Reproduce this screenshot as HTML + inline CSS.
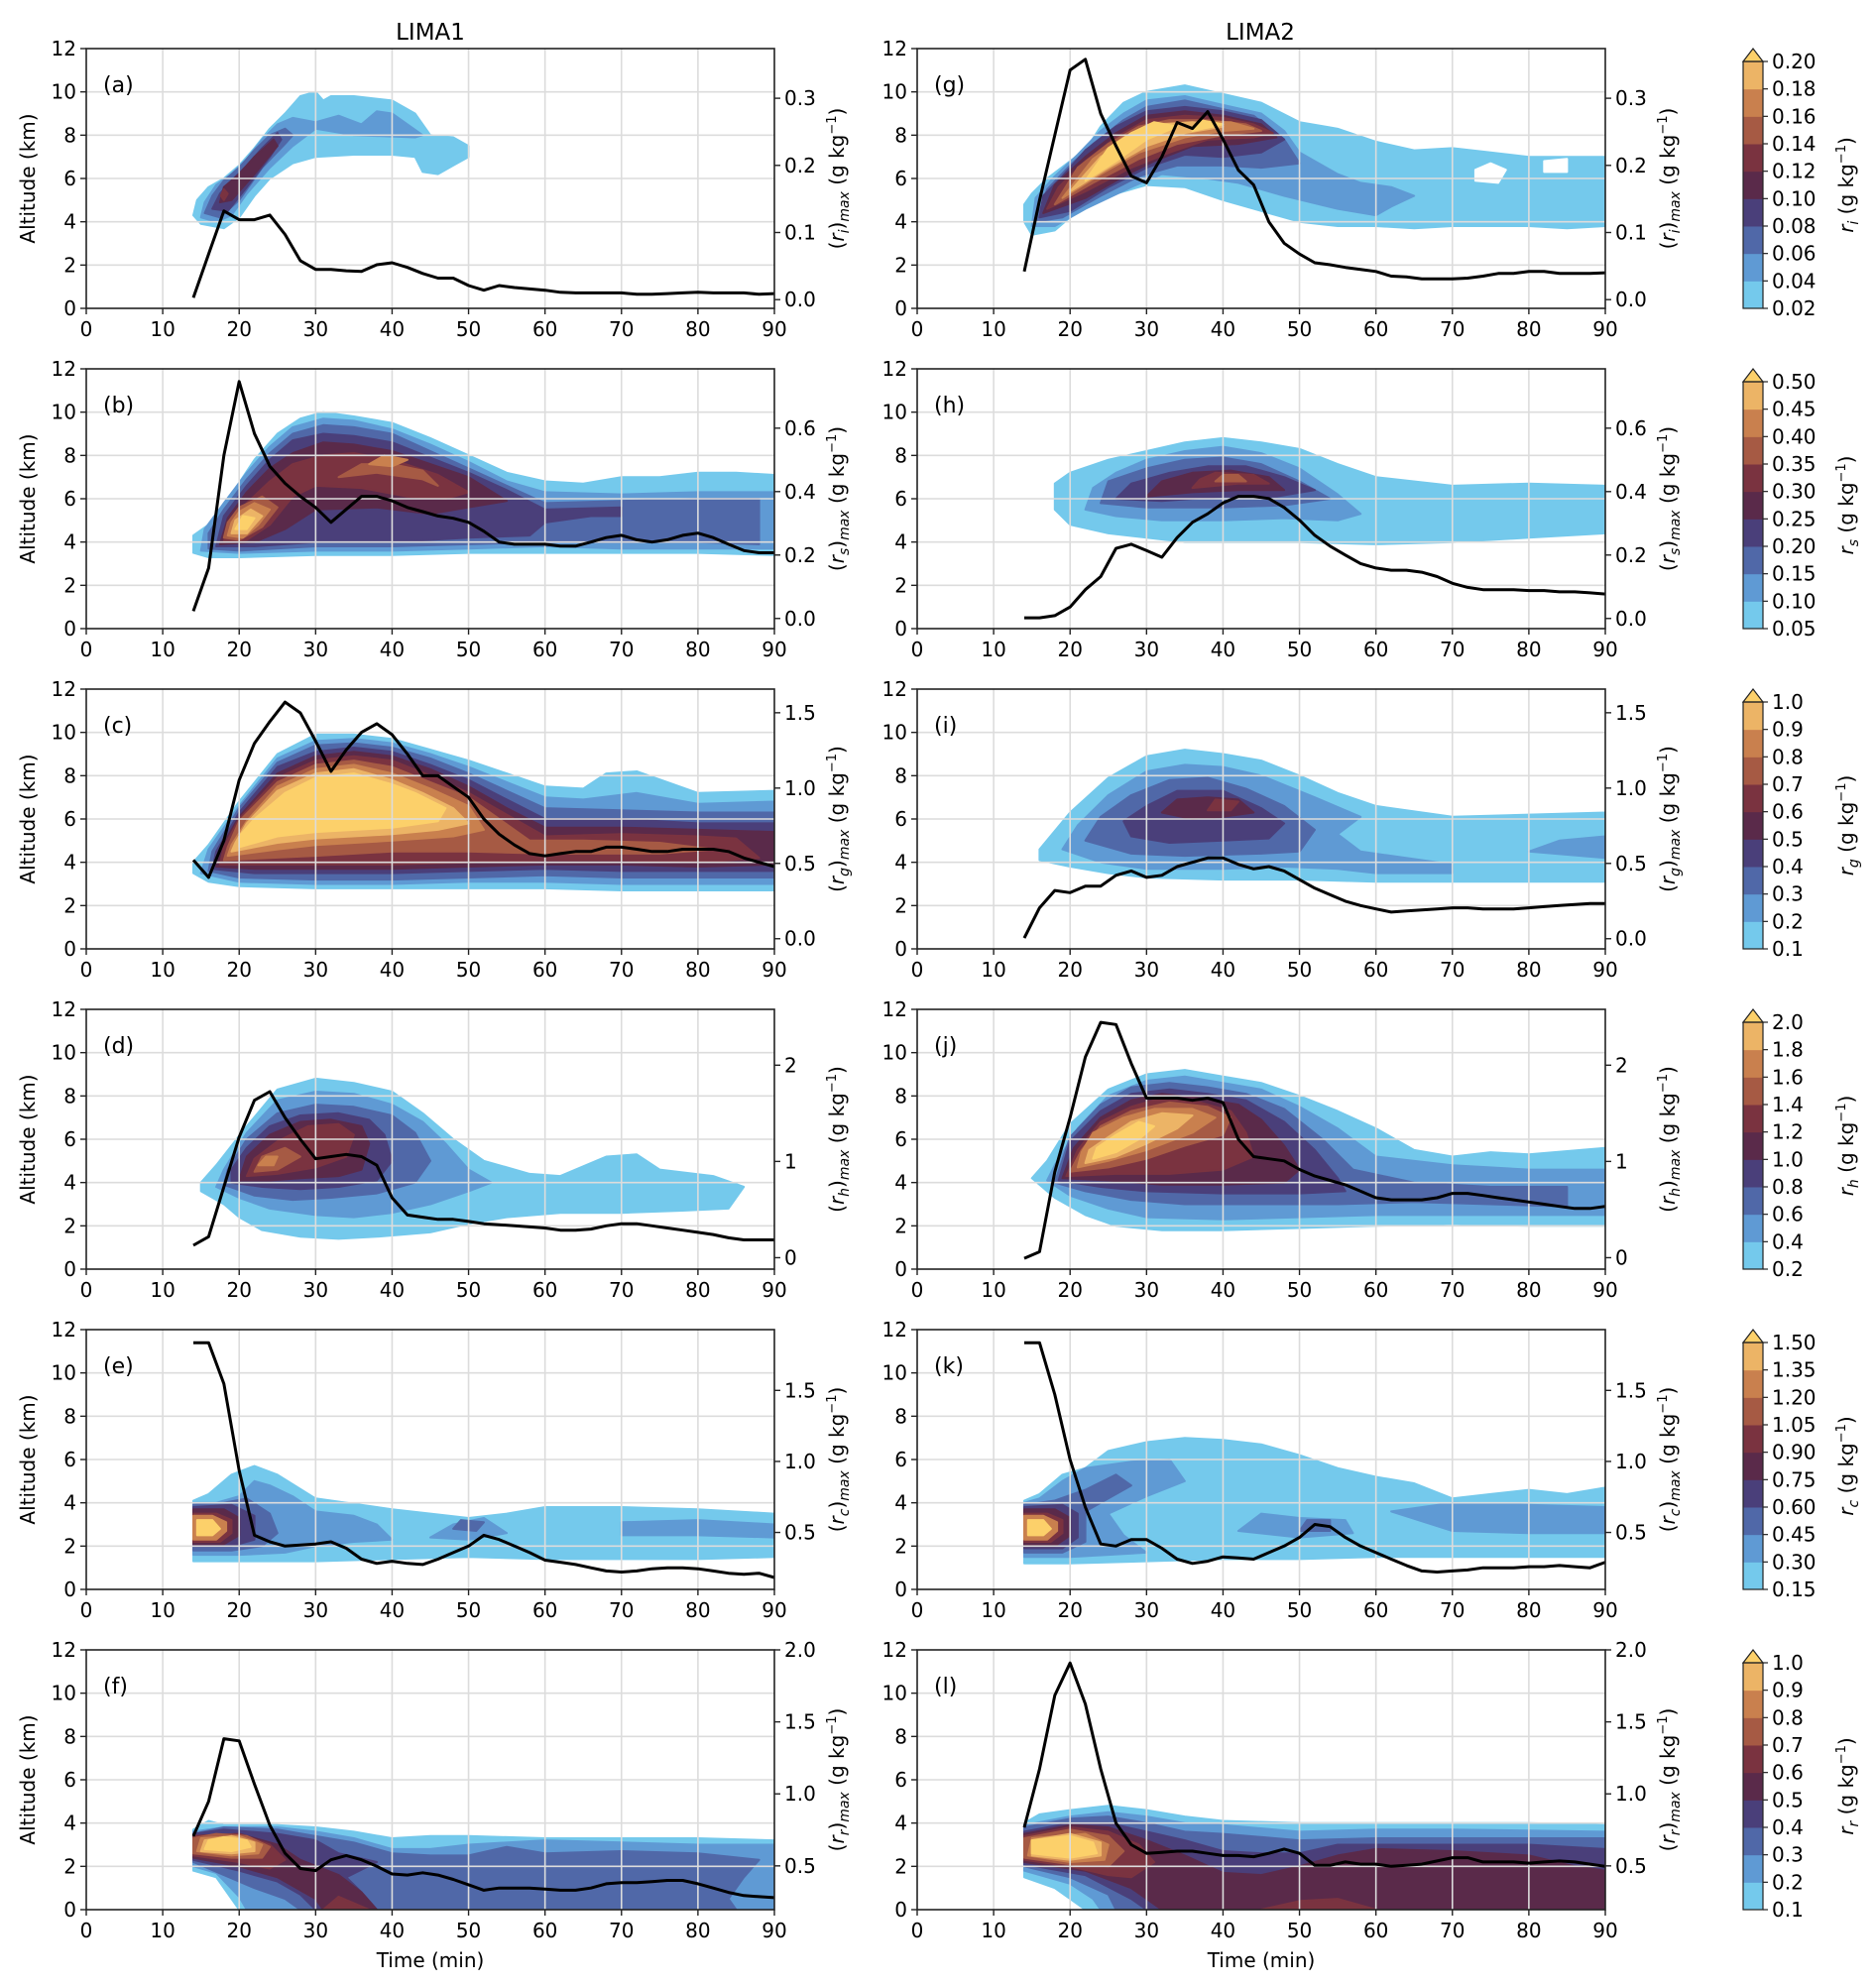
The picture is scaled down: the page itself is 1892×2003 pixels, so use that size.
<!DOCTYPE html>
<html><head><meta charset="utf-8">
<style>
html,body{margin:0;padding:0;background:#fff;}
svg{display:block;font-family:"DejaVu Sans","Liberation Sans",sans-serif;}
</style></head>
<body>
<svg id="fig" width="1892" height="2003" viewBox="0 0 1892 2003" xmlns="http://www.w3.org/2000/svg">
<text x="434" y="40" font-size="23" text-anchor="middle">LIMA1</text>
<text x="1271" y="40" font-size="23" text-anchor="middle">LIMA2</text>
</svg>
<script>
const times=[14,16,18,20,22,24,26,28,30,32,34,36,38,40,42,44,46,48,50,52,54,56,58,60,62,64,66,68,70,72,74,76,78,80,82,84,86,88,90];
const xTicks=[0,10,20,30,40,50,60,70,80,90];
const yTicks=[0,2,4,6,8,10,12];
const levelColors=["#ffffff","#74c9ec","#5f9ad4","#5068a8","#4a3f7a","#5a2a4a","#7a3340","#a65a44","#c9804e","#ecb466","#fcd06a"];
const lineA=[0.003,0.068,0.132,0.119,0.119,0.126,0.097,0.058,0.045,0.045,0.043,0.042,0.052,0.055,0.048,0.039,0.032,0.032,0.021,0.014,0.021,0.018,0.016,0.014,0.011,0.010,0.010,0.010,0.010,0.008,0.008,0.009,0.010,0.011,0.010,0.010,0.010,0.008,0.009];
const lineG=[0.042,0.148,0.245,0.342,0.358,0.277,0.229,0.184,0.174,0.213,0.264,0.255,0.280,0.239,0.193,0.171,0.116,0.084,0.068,0.055,0.052,0.048,0.045,0.042,0.035,0.034,0.031,0.031,0.031,0.032,0.035,0.039,0.039,0.042,0.042,0.039,0.039,0.039,0.040];
const lineB=[0.023,0.159,0.514,0.747,0.583,0.480,0.426,0.385,0.350,0.303,0.344,0.385,0.385,0.371,0.350,0.337,0.323,0.316,0.303,0.275,0.241,0.234,0.234,0.234,0.228,0.228,0.241,0.255,0.262,0.248,0.241,0.248,0.262,0.269,0.255,0.234,0.214,0.207,0.207];
const lineH=[0.002,0.002,0.009,0.036,0.091,0.132,0.221,0.234,0.214,0.193,0.255,0.303,0.330,0.364,0.385,0.385,0.378,0.350,0.310,0.262,0.228,0.200,0.173,0.159,0.152,0.152,0.146,0.132,0.111,0.098,0.091,0.091,0.091,0.088,0.088,0.084,0.084,0.081,0.077];
const lineC=[0.522,0.407,0.651,1.053,1.297,1.441,1.571,1.499,1.312,1.111,1.254,1.370,1.427,1.355,1.226,1.082,1.082,1.010,0.938,0.795,0.694,0.622,0.565,0.550,0.565,0.579,0.579,0.608,0.608,0.594,0.579,0.579,0.594,0.594,0.594,0.579,0.536,0.507,0.479];
const lineI=[0.004,0.205,0.320,0.306,0.349,0.349,0.421,0.450,0.407,0.421,0.479,0.507,0.536,0.536,0.493,0.464,0.479,0.450,0.392,0.335,0.292,0.249,0.220,0.198,0.177,0.184,0.191,0.198,0.205,0.205,0.198,0.198,0.198,0.205,0.213,0.220,0.227,0.234,0.234];
const lineD=[0.128,0.218,0.736,1.253,1.635,1.725,1.455,1.230,1.028,1.050,1.073,1.050,0.961,0.623,0.443,0.421,0.398,0.398,0.376,0.353,0.342,0.331,0.320,0.308,0.286,0.286,0.297,0.331,0.353,0.353,0.331,0.308,0.286,0.263,0.241,0.207,0.185,0.185,0.185];
const lineJ=[-0.007,0.061,0.893,1.455,2.085,2.445,2.422,2.018,1.658,1.658,1.658,1.635,1.658,1.613,1.230,1.050,1.028,1.006,0.916,0.848,0.803,0.758,0.691,0.623,0.601,0.601,0.601,0.623,0.668,0.668,0.646,0.623,0.601,0.578,0.556,0.533,0.511,0.511,0.533];
const lineE=[1.836,1.836,1.547,0.937,0.480,0.434,0.404,0.411,0.419,0.434,0.389,0.312,0.282,0.297,0.282,0.274,0.312,0.358,0.404,0.480,0.450,0.404,0.358,0.305,0.290,0.274,0.251,0.229,0.221,0.229,0.244,0.251,0.251,0.244,0.229,0.213,0.206,0.213,0.183];
const lineK=[1.836,1.836,1.471,1.013,0.678,0.419,0.404,0.450,0.450,0.389,0.312,0.282,0.297,0.328,0.320,0.312,0.358,0.404,0.465,0.556,0.541,0.465,0.404,0.358,0.312,0.267,0.229,0.221,0.229,0.236,0.251,0.251,0.251,0.259,0.259,0.267,0.259,0.251,0.290];
const lineF=[0.707,0.948,1.383,1.368,1.068,0.782,0.587,0.482,0.467,0.542,0.572,0.542,0.497,0.444,0.436,0.452,0.436,0.406,0.369,0.331,0.346,0.346,0.346,0.339,0.331,0.331,0.346,0.376,0.384,0.384,0.391,0.399,0.399,0.376,0.346,0.316,0.294,0.286,0.279];
const lineL=[0.767,1.173,1.684,1.909,1.624,1.173,0.797,0.647,0.587,0.594,0.602,0.602,0.587,0.572,0.572,0.564,0.587,0.617,0.587,0.504,0.504,0.527,0.512,0.512,0.497,0.504,0.512,0.534,0.557,0.557,0.527,0.527,0.527,0.519,0.527,0.534,0.527,0.512,0.497];
const rightTicks=[[0.0,0.1,0.2,0.3],[0.0,0.2,0.4,0.6],[0.0,0.5,1.0,1.5],[0,1,2],[0.5,1.0,1.5],[0.5,1.0,1.5,2.0]];
const rightTickLabels=[["0.0","0.1","0.2","0.3"],["0.0","0.2","0.4","0.6"],["0.0","0.5","1.0","1.5"],["0","1","2"],["0.5","1.0","1.5"],["0.5","1.0","1.5","2.0"]];
const rightRange=[[-0.013,0.374],[-0.032,0.787],[-0.0675,1.657],[-0.119,2.58],[0.099,1.928],[0.196,2.0]];
const species=["i","s","g","h","c","r"];
const cbarLabels=[["0.02","0.04","0.06","0.08","0.10","0.12","0.14","0.16","0.18","0.20"],["0.05","0.10","0.15","0.20","0.25","0.30","0.35","0.40","0.45","0.50"],["0.1","0.2","0.3","0.4","0.5","0.6","0.7","0.8","0.9","1.0"],["0.2","0.4","0.6","0.8","1.0","1.2","1.4","1.6","1.8","2.0"],["0.15","0.30","0.45","0.60","0.75","0.90","1.05","1.20","1.35","1.50"],["0.1","0.2","0.3","0.4","0.5","0.6","0.7","0.8","0.9","1.0"]];
const contA=[[1,14,4.3,15,3.9,18,3.7,20,4.2,22,5.2,24,6,27,6.7,30,7,35,7.1,40,7.1,43,7,44,6.3,46,6.2,48,6.6,50,7,50,7.5,48,7.9,45,8,43,9,40,9.6,35,9.8,32,9.8,31,9.6,30,10,28,9.8,26,9,24,8.3,22,7.4,20,6.6,18,6,16,5.6,14.5,5],
[2,15,4.2,17,4,19,4.3,21,5.3,24,6.5,27,7.5,30,8.3,35,8,43,7.9,44,8,40,9,38,9.1,36,8.5,33,8.9,30,8.6,27,8.8,25,8.5,23,7.8,21,6.9,19,6.2,17,5.7,15.5,4.9],
[3,15.5,4.4,17.5,4.2,20,5,23,6.5,26,7.6,27,8,26,8.3,24,8,22,7.3,20,6.5,18,5.9,16.5,5.2],
[4,16.5,4.6,18.5,4.5,21,5.6,24,7,25.5,7.8,25,8.1,23,7.4,21,6.6,19,5.9,17.5,5.3],
[5,17.5,4.9,19,5,22,6.2,25,7.5,24.5,7.8,22,7,20,6.2,18,5.6],
[6,18,5,18.5,5.3,18,5.5,17.6,5.2]];
const contG=[[1,14,4,15,3.4,18,3.6,20,4.2,25,5.2,30,5.7,35,5.6,40,5,45,4.5,50,4,55,3.8,60,3.8,65,3.7,70,3.8,75,3.8,80,3.8,85,3.7,90,3.8,90,7,85,7,80,7,75,7.2,70,7.4,65,7.3,60,7.7,55,8.3,50,8.6,45,9.5,40,9.9,35,10.3,30,10,27,9.5,24,8.4,22,7.3,20,6.8,17,6,15,5.3,14,4.8],
[0,73,5.9,76,5.8,77,6.4,75,6.7,73,6.4],[0,82,6.3,85,6.3,85,6.9,82,6.8],
[2,15,3.8,18,3.8,22,4.6,28,5.6,32,6.2,38,6,42,5.8,48,5.2,55,4.6,60,4.3,62,4.7,65,5.2,62,5.6,58,5.8,55,6.2,50,7.2,48,8.2,45,9,40,9.4,35,9.8,30,9.6,27,9,24,8.2,21,7.1,18,6.1,15.5,5.1],
[3,15.5,4,19,4.2,24,5.2,29,6.1,34,6.6,40,6.6,45,6.5,50,6.7,48,7.8,44,8.9,40,9.2,35,9.6,30,9.3,27,8.7,23,7.6,20,6.6,17,5.5],
[4,16,4.2,20,4.5,25,5.6,30,6.5,35,7.1,40,7,45,7.2,48,7.8,45,8.7,40,9.1,35,9.3,30,9.1,26,8.4,22,7.3,19,6.1,16.5,5.2],
[5,16.5,4.4,22,5.1,27,6.1,31,6.8,36,7.5,42,7.6,47,7.9,45,8.5,40,8.9,35,9.1,30,8.9,26,8.1,22,7,18,5.7],
[6,17,4.6,22,5.4,28,6.5,33,7.2,38,7.8,44,7.9,46.5,8.1,44,8.5,40,8.8,35,8.9,30,8.7,26,7.9,22,6.8,18.5,5.6],
[7,18,4.8,23,5.8,29,6.9,34,7.6,40,8,45,8.2,43,8.5,38,8.7,33,8.7,29,8.4,25,7.6,21,6.5],
[8,19,5.1,24,6.2,29,7.2,35,7.9,40,8.2,44,8.3,41,8.6,36,8.6,31,8.5,27,7.9,23,6.9],
[9,20,5.4,25,6.5,30,7.5,35,8.1,40,8.4,36,8.6,32,8.5,28,7.9,24,7],
[10,22,5.9,26,6.8,30,7.8,34,8.4,31,8.6,28,8.1,25,7.4],[10,36,8.2,40,8.5,37,8.7]];
const contB=[[1,14,3.5,16,3.3,20,3.3,30,3.4,40,3.4,50,3.5,60,3.5,70,3.5,80,3.5,90,3.4,90,7.1,85,7.2,80,7.2,75,7,70,7,65,6.7,60,6.8,55,7.2,50,8,45,8.8,40,9.5,35,9.8,31,10,28,9.7,25,9,22,7.8,19,6.2,16,4.8,14,4.3],
[2,15,3.6,20,3.5,30,3.6,40,3.6,50,3.7,60,3.8,70,3.7,80,3.7,90,3.7,90,6.3,80,6.3,70,6.2,60,6.3,55,6.8,50,7.7,45,8.5,40,9.2,35,9.6,31,9.7,27,9.3,24,8.4,21,7.2,18,5.8,15.5,4.6],
[3,16,3.7,20,3.6,30,3.8,40,3.8,50,3.9,60,4,70,4,80,4,88,3.9,88,6,80,6,70,5.9,60,5.8,55,6.6,50,7.4,45,8.2,40,9,35,9.3,31,9.4,27,9,24,8.1,21,6.9,18,5.5,16,4.4],
[4,17,3.8,22,3.8,30,4,40,4,50,4.2,58,4.3,60,4.9,66,5.2,70,5.2,70,5.6,60,5.5,55,6.4,50,7.2,45,7.9,40,8.6,35,8.9,31,9,27,8.7,24,7.8,21,6.6,18,5.2],
[5,17.5,3.9,22,4,26,4.6,30,5.5,38,5.6,45,5.3,50,5.6,55,5.9,50,7,45,7.6,40,8.2,35,8.5,31,8.6,27,8.1,24,7.4,21,6.3,18.5,5.1],
[6,18,4,21,4.1,24,4.8,27,6.1,30,6.6,36,6.5,42,6.1,47,6,50,6.3,46,7.1,40,7.8,35,8.1,31,8,27,7.6,24,6.8,21,5.8,18.5,4.9],
[7,33,7,38,7.2,44,6.9,46,6.6,44,7.3,40,7.6,36,7.6],[7,18,4.2,20,4.1,23,4.7,25,5.6,23,6.1,20,5.6,18.5,4.9],
[8,18.5,4.3,20.5,4.2,22.5,4.8,24,5.5,22,5.8,20,5.4,19,4.9],[8,37,7.6,40,7.5,42,7.8,39,8],
[9,19,4.4,21,4.4,23,5.2,21.5,5.5,19.5,5],[10,19.5,4.6,21,4.6,22,5.1,20.5,5.2]];
const contH=[[1,18,5.5,20,4.8,25,4.4,30,4.2,35,4,40,4,50,4,60,3.9,70,4,80,4.2,90,4.4,90,6.6,80,6.7,70,6.6,60,7,55,7.6,50,8.3,45,8.6,40,8.8,35,8.6,30,8.2,25,7.8,20,7.2,18,6.7],
[2,22,5.5,26,5.2,32,5,40,5,48,5.1,55,5,58,5.3,55,6.2,50,7.4,45,8.1,40,8.4,35,8.2,30,7.8,26,7.2,23,6.5],
[3,24,5.8,30,5.6,40,5.6,48,5.7,54,6,50,6.8,45,7.6,40,7.9,35,7.8,30,7.4,25,6.8],
[4,26,6,32,5.9,40,6.1,47,6.1,52,6.4,48,7,43,7.5,38,7.5,33,7.2,28,6.7],
[5,30,6.1,36,6.3,42,6.4,48,6.4,46,7,41,7.3,36,7.2,32,6.8],
[6,36,6.5,42,6.7,46,6.7,44,7.1,39,7.2,37,6.9],[7,39,6.8,43,6.8,42,7.1,40,7.1]];
const contC=[[1,14,3.5,16,3.1,20,2.9,30,2.8,40,2.8,50,2.8,60,2.8,70,2.7,80,2.7,90,2.7,90,7.3,80,7.2,72,8.2,68,8.1,65,7.4,60,7.5,55,8.1,50,8.7,45,9.2,40,9.7,35,9.9,30,9.9,25,9,20,6.8,16,4.8,14,4],
[2,15,3.5,20,3.1,30,3,40,3,50,3.1,60,3.1,70,3,80,3,90,3,90,6.8,80,6.7,72,7.2,65,6.9,60,7,55,7.7,50,8.4,45,9,40,9.5,35,9.7,30,9.6,25,8.8,20,6.6,16,4.6],
[3,16,3.6,20,3.3,30,3.2,40,3.2,50,3.3,60,3.4,70,3.3,80,3.3,90,3.3,90,6.3,80,6.3,70,6.4,60,6.5,55,7.3,50,8.1,45,8.8,40,9.3,35,9.5,30,9.4,25,8.6,20,6.5,16.5,4.5],
[4,16.5,3.7,22,3.5,30,3.5,40,3.5,50,3.6,60,3.7,70,3.6,80,3.6,90,3.6,90,5.8,80,5.8,70,6,60,6,55,6.9,50,7.8,45,8.5,40,9.1,35,9.3,30,9.1,25,8.4,20,6.3,17,4.5],
[5,17,3.8,22,3.7,30,3.7,40,3.7,50,3.8,60,3.9,70,3.9,80,3.8,90,3.9,90,5.4,80,5.5,70,5.6,60,5.6,55,6.5,50,7.5,45,8.3,40,8.9,35,9.1,30,8.9,25,8.1,20,6.1,17.5,4.6],
[6,17.5,3.9,22,3.9,30,3.9,40,3.9,50,4,60,4.1,70,4.1,80,4,88,4.2,85,5.1,80,5.2,70,5.3,60,5.2,55,6.2,50,7.2,45,8,40,8.7,35,8.9,30,8.7,25,7.9,20,6,18,4.7],
[7,18,4.1,24,4.2,30,4.3,40,4.5,50,4.5,60,4.4,75,4.4,82,4.6,75,4.9,65,5,58,5,54,6,50,7,45,7.7,40,8.4,35,8.7,30,8.5,25,7.7,20,5.9,18.5,4.7],
[8,18.5,4.3,25,4.6,30,4.8,40,5,48,5.2,52,5.5,50,6.6,45,7.4,40,8.1,35,8.5,30,8.3,25,7.5,21,5.9,19,4.8],
[9,19,4.5,25,4.9,30,5.1,40,5.3,46,5.5,50,5.8,48,6.5,44,7.2,40,7.8,35,8.3,30,8.1,25,7.3,21,5.8,19.5,4.9],
[10,20,4.7,25,5.2,30,5.4,40,5.6,46,5.9,47,6.5,43,7.2,40,7.6,35,8.1,30,7.9,26,7.2,22,6,20,5.2]];
const contI=[[1,16,4.1,20,3.8,25,3.5,30,3.3,40,3.2,50,3.2,60,3.1,70,3.1,80,3.1,90,3.1,90,6.3,80,6.2,70,6.1,60,6.6,55,7.2,50,8,45,8.7,40,9,35,9.2,30,8.9,25,7.9,20,6.3,16,4.6],
[2,19,4.6,24,4,30,3.7,40,3.7,48,3.8,55,3.7,60,3.5,70,3.5,70,3.9,58,4.5,55,5.3,58,6.1,52,7,45,8,40,8.4,35,8.5,30,8.2,25,7.1,21,5.7],
[2,80,4.5,90,4.2,90,5.2,84,5],
[3,22,5,28,4.4,35,4.3,45,4.4,50,4.5,52,5.5,48,6.6,43,7.4,38,7.9,33,7.8,28,7.1,24,6.1],
[4,28,5.2,33,4.9,40,5,46,5.1,48,5.8,45,6.5,40,7.3,34,7.3,30,6.6,27,5.9],
[5,32,6.3,36,6,40,6.1,44,6.3,42,6.9,38,7,34,6.9],[6,38,6.4,41,6.4,42,6.8,39,6.9]];
const contD=[[1,15,3.6,18,3,20,2.4,23,1.8,28,1.5,33,1.4,38,1.5,45,1.7,50,2.1,55,2.4,62,2.6,70,2.6,78,2.7,84,2.8,86,3.8,82,4.3,75,4.6,72,5.3,68,5.2,62,4.3,58,4.4,52,5,48,6,44,7.2,40,8.2,35,8.6,30,8.8,25,8.3,21,6.6,17,4.8,15,4],
[2,17,3.8,20,3.3,24,2.8,30,2.5,35,2.4,40,2.6,45,3,50,3.6,53,4,50,4.6,47,5.8,44,6.8,40,7.6,35,8.1,30,8.2,25,7.8,21,6.3,18,4.6],
[3,18,3.9,22,3.4,27,3.2,32,3.3,38,3.5,43,4,45,5,43,6.3,40,7.1,35,7.5,30,7.6,25,7.2,21,6,18.5,4.6],
[4,19,4,23,3.8,28,3.7,33,3.8,38,4.1,40,5,39,6.2,37,6.9,33,7.2,28,7.1,24,6.6,21,5.6,19,4.6],
[5,20,4.1,24,4.1,28,4.2,33,4.3,36,4.6,37,5.8,36,6.6,32,6.9,28,6.8,24,6.2,21,5.2],
[6,21,4.3,25,4.4,30,4.7,34,5.2,35,6.2,33,6.7,29,6.6,25,5.9,22,5.1],
[7,22,4.5,25,4.6,28,5.2,26,5.6,23,5.2],[8,22.5,4.8,24.5,4.8,25,5.2,23.5,5.2]];
const contJ=[[1,15,4.2,18,3.3,22,2.5,26,2,32,1.8,40,1.8,50,1.9,60,2,70,2.1,80,2,90,2,90,5.6,80,5.3,75,5.4,70,5.2,65,5.5,60,6.5,55,7.3,50,8,45,8.6,40,8.9,35,9.2,30,9,25,8.3,20,6.7,17,5],
[2,17,4.1,20,3.4,25,2.8,30,2.4,40,2.3,50,2.4,60,2.5,70,2.5,80,2.5,90,2.5,90,4.6,80,4.6,70,4.8,60,5.2,55,6.5,50,7.5,45,8.3,40,8.6,35,8.9,30,8.7,25,8,21,6.5,18,4.8],
[3,18,4,22,3.6,28,3.2,35,3,45,3,55,3,65,3.1,75,3,85,2.9,85,3.8,75,3.8,65,4,57,4.6,53,6,48,7.4,43,8.1,38,8.4,33,8.6,28,8.4,24,7.6,20,6.1],
[4,18.5,4.1,24,3.8,30,3.6,40,3.5,50,3.5,56,3.6,55,4.2,52,5.5,48,6.8,43,7.8,38,8.1,33,8.3,28,8.1,24,7.3,20,5.9],
[5,19,4.2,25,4.1,32,3.9,40,3.9,48,4,50,4.6,48,5.7,45,6.9,42,7.6,37,7.9,32,8.1,28,7.8,24,7,20.5,5.6],
[6,19.5,4.3,26,4.4,33,4.4,40,4.6,44,5.2,43,6.3,41,7.3,37,7.7,32,7.9,28,7.5,24,6.8,21,5.5],
[7,20,4.5,25,4.7,30,5.1,35,5.7,40,6.2,41,7,38,7.5,33,7.7,28,7.3,24,6.6,21.5,5.5],
[8,21,4.7,25,5,30,5.5,36,6.3,39,7,36,7.4,31,7.4,27,7,23,6.3,21.5,5.4],
[9,22,4.9,26,5.2,30,5.8,34,6.5,36,7.1,32,7.2,28,6.8,25,6.1,22.5,5.5],
[10,23,5.1,26,5.4,29,6,31,6.6,29,6.8,26,6.2,23.5,5.6]];
const contE=[[1,14,1.3,20,1.3,30,1.3,40,1.4,50,1.5,60,1.4,70,1.4,80,1.4,90,1.5,90,3.5,80,3.7,70,3.8,60,3.8,55,3.5,50,3.3,40,3.7,30,4.2,25,5.3,22,5.7,19,5.3,16,4.4,14,4.1],
[2,14,1.6,20,1.6,26,1.7,30,2,35,2.2,40,2.3,38,3,35,3.4,30,3.6,27,4.3,24,4.8,22,5,20,4.3,17,4,14,4],
[2,45,2.4,50,2.3,55,2.6,52,3.3,48,3],[2,70,2.5,80,2.5,90,2.4,90,3,80,3.2,70,3.1],
[3,14,1.8,19,1.8,23,2,25,2.6,24,3.5,21,4.2,18,4,14,3.9],[3,48,2.8,51,2.7,52,3.1,49,3.2],
[4,14,2,19,2,22,2.3,22,3.4,19,3.9,14,3.8],[5,14,2.1,18,2.1,20,2.5,20,3.3,18,3.7,14,3.7],
[6,14,2.2,17.5,2.2,19,2.6,19,3.2,17,3.5,14,3.5],[8,14,2.3,17,2.3,18.3,2.7,18.3,3.1,16.5,3.4,14,3.4],
[10,14.5,2.5,16.5,2.5,17.5,2.8,16.5,3.2,14.5,3.2]];
const contK=[[1,14,1.2,20,1.2,30,1.3,40,1.4,50,1.4,60,1.5,70,1.5,80,1.5,90,1.5,90,4.7,85,4.4,80,4.6,75,4.4,70,4.2,65,4.9,60,5.2,55,5.6,50,6.2,45,6.7,40,6.9,35,7,30,6.8,25,6.4,22,5.6,19,5.3,16,4.4,14,4.1],
[2,14,1.5,20,1.5,25,1.6,30,1.7,27,2.5,25,3.5,30,4.3,35,5,33,6,28,5.9,22,5.6,19,5,16,4.2,14,4],
[2,42,2.7,50,2.4,57,2.6,56,3.2,50,3.3,45,3.5],[2,70,2.7,80,2.6,90,2.6,90,3.8,80,3.9,70,4,62,3.6],
[3,14,1.7,19,1.7,22,2.2,22,3.6,25,4.2,28,4.8,26,5.3,22,4.6,18,4.1,14,3.9],[3,50,2.7,54,2.7,54,3.2,51,3.2],
[4,14,1.9,19,1.9,21,2.4,21,3.5,19,3.9,14,3.8],[5,14,2,18,2,20,2.5,20,3.3,18,3.7,14,3.7],
[6,14,2.2,17.5,2.2,19,2.6,19,3.2,17,3.5,14,3.5],[8,14,2.3,17,2.3,18.3,2.7,18.3,3.1,16.5,3.4,14,3.4],
[10,14.5,2.5,16.5,2.5,17.5,2.8,16.5,3.2,14.5,3.2]];
const contF=[[1,14,1.8,17,1.5,20,0,90,0,90,3.2,80,3.3,70,3.3,60,3.3,50,3.4,45,3.4,40,3.3,35,3.6,30,3.8,25,3.9,18,3.9,16,4.1,14,3.7],
[2,14,2,17,1.7,20,0.6,21,0,90,0,90,3,80,3,70,3.1,60,3.2,50,3,45,2.8,40,2.8,35,3.3,30,3.6,25,3.8,18,3.8,14,3.6],
[3,14,2.2,18,1.6,22,1,26,0.5,28,0,85,0,84,0.5,86,1.5,88,2.3,80,2.6,70,2.7,60,2.6,55,2.9,50,2.5,45,2.5,40,2.6,35,3.1,30,3.4,25,3.7,18,3.8,14,3.5],
[4,14,2.3,20,1.8,25,1.3,28,0.7,30,0,38,0,36,0.8,34,1.5,38,2.2,33,2.6,30,3.2,25,3.5,18,3.7,14,3.5],
[5,14,2.4,20,2,25,1.5,30,0.5,31,0,38,0,36,0.8,33,1.6,28,2.3,25,3,20,3.5,14,3.4],
[6,14,2.5,20,2.2,24,1.9,26,2.3,24,3,20,3.5,14,3.4],[6,31,0,37,0,33,0.6],
[7,14,2.6,19,2.4,23,2.4,24,2.9,21,3.4,17,3.5,14,3.3],[8,14.5,2.7,19,2.5,22.5,2.6,23,3,20,3.4,15,3.3],
[9,15,2.7,19,2.6,22,2.7,22,3.1,19,3.4,15.5,3.2],[10,15.5,2.8,19,2.7,21.5,2.9,21,3.2,18,3.35,16,3.2]];
const contL=[[1,14,1.5,18,1,22,0,90,0,90,3.9,80,4,70,4,60,4,50,4,40,4.1,35,4.3,30,4.6,25,4.8,20,4.6,16,4.4,14,4],
[2,14,1.8,20,1.2,23,0.5,24,0,90,0,90,3.6,70,3.7,60,3.7,50,3.6,40,3.9,35,4,30,4.3,25,4.5,20,4.3,14,3.9],
[3,14,2,20,1.5,25,0.7,26,0,90,0,90,3.3,80,3.3,70,3.3,60,3.3,50,3.2,40,3.5,35,3.6,30,4,25,4.3,20,4.2,14,3.8],
[4,14,2.1,22,1.6,28,0.5,30,0,90,0,90,2.8,80,3,70,3,60,3,55,3,50,2.6,45,2.6,40,2.7,35,3.2,30,3.6,25,4,20,4,14,3.6],
[5,14,2.2,22,1.8,28,1,32,0,90,0,90,1.8,86,2,80,2.5,70,2.7,60,2.8,55,2.5,50,2,45,1.6,40,1.7,35,2.5,30,3.2,25,3.8,20,3.9,14,3.5],
[6,14,2.3,20,2,25,1.6,28,1.5,31,2.2,29,3,25,3.6,20,3.8,14,3.4],[6,45,0,60,0,55,0.5,50,0.4],
[7,14,2.4,20,2.1,25,2,27,2.7,25,3.4,20,3.7,14,3.3],[8,14.5,2.5,20,2.2,24.5,2.3,25,3,22,3.5,15,3.3],
[9,15,2.5,20,2.3,24,2.5,24,3.1,20,3.5,15,3.2],[10,15,2.6,20,2.4,23.5,2.6,23,3.1,20,3.4,15,3.2]];
const panelLetters=["a","b","c","d","e","f","g","h","i","j","k","l"];
const leftLines=[lineA,lineB,lineC,lineD,lineE,lineF];
const rightLines=[lineG,lineH,lineI,lineJ,lineK,lineL];
const leftConts=[contA,contB,contC,contD,contE,contF];
const rightConts=[contG,contH,contI,contJ,contK,contL];

const NS="http://www.w3.org/2000/svg";
const svg=document.getElementById("fig");
function mk(tag,attrs,parent,text){const e=document.createElementNS(NS,tag);for(const k in attrs)e.setAttribute(k,attrs[k]);if(text!==undefined)e.textContent=text;(parent||svg).appendChild(e);return e;}
const W=694,H=262,TOP0=49,STEP=323,COLX=[87,925];

function drawPanel(col,row){
  const L=COLX[col],T=TOP0+row*STEP;
  const xS=t=>L+t/90*W, yS=z=>T+(12-z)/12*H;
  const rr=rightRange[row], yR=v=>T+(rr[1]-v)/(rr[1]-rr[0])*H;
  const idx=col*6+row, letter=panelLetters[idx];
  const g=mk("g",{});
  
  
  const cid="clip"+letter;
  const cp=mk("clipPath",{id:cid},g);mk("rect",{x:L,y:T,width:W,height:H},cp);
  const conts=(col?rightConts:leftConts)[row];
  const cg=mk("g",{"clip-path":"url(#"+cid+")"},g);
  
  
  conts.forEach(c=>{
    let d="";for(let i=1;i<c.length;i+=2)d+=(i==1?"M":"L")+xS(c[i]).toFixed(1)+","+yS(c[i+1]).toFixed(1);
    const p=mk("path",{d:d+"Z",fill:levelColors[c[0]],stroke:levelColors[c[0]],"stroke-width":2,"stroke-linejoin":"round"},cg);
    
    
  });
  xTicks.forEach(t=>{if(t>0&&t<90)mk("line",{x1:xS(t),x2:xS(t),y1:T,y2:T+H,stroke:"#dcdcdc","stroke-width":1.6},g);});
  yTicks.forEach(z=>{if(z>0&&z<12)mk("line",{x1:L,x2:L+W,y1:yS(z),y2:yS(z),stroke:"#dcdcdc","stroke-width":1.6},g);});
  const vals=(col?rightLines:leftLines)[row];
  let d="";vals.forEach((v,i)=>{d+=(i?"L":"M")+xS(times[i]).toFixed(1)+","+yR(v).toFixed(1);});
  const ln=mk("path",{d:d,fill:"none",stroke:"#000","stroke-width":3,"stroke-linejoin":"round"},g);
  
  
  mk("rect",{x:L,y:T,width:W,height:H,fill:"none",stroke:"#222","stroke-width":1.6},g);
  xTicks.forEach(t=>{mk("line",{x1:xS(t),x2:xS(t),y1:T+H,y2:T+H+6,stroke:"#222","stroke-width":1.4},g);
    const tx=mk("text",{x:xS(t),y:T+H+28,"font-size":20,"text-anchor":"middle"},g,String(t));
    });
  yTicks.forEach(z=>{mk("line",{x1:L-6,x2:L,y1:yS(z),y2:yS(z),stroke:"#222","stroke-width":1.4},g);
    const tx=mk("text",{x:L-10,y:yS(z)+7,"font-size":20,"text-anchor":"end"},g,String(z));
    });
  rightTicks[row].forEach((v,i)=>{mk("line",{x1:L+W,x2:L+W+6,y1:yR(v),y2:yR(v),stroke:"#222","stroke-width":1.4},g);
    const tx=mk("text",{x:L+W+10,y:yR(v)+7,"font-size":20},g,rightTickLabels[row][i]);
    });
  const lt=mk("text",{x:L+17,y:T+44,"font-size":22},g,"("+letter+")");
  
  if(col==0){
    const ay=mk("text",{x:0,y:0,"font-size":20,"text-anchor":"middle",transform:`translate(${L-52},${T+H/2}) rotate(-90)`},g,"Altitude (km)");
    
  }
  const ry=mk("text",{x:0,y:0,"font-size":20,"text-anchor":"middle",transform:`translate(${L+W+70},${T+H/2}) rotate(-90)`},g);
  
  ry.innerHTML=`(<tspan font-style="italic">r</tspan><tspan font-style="italic" font-size="14" dy="5">${species[row]}</tspan><tspan dy="-5">)</tspan><tspan font-style="italic" font-size="14" dy="5">max</tspan><tspan dy="-5"> (g kg</tspan><tspan font-size="13" dy="-8">−1</tspan><tspan dy="8">)</tspan>`;
  if(row==5){const xt=mk("text",{x:L+W/2,y:T+H+58,"font-size":20,"text-anchor":"middle"},g,"Time (min)");
    }
}
function drawCbar(row){
  const T=TOP0+row*STEP, x0=1758,w=20,bot=T+262,top=T+13,bh=(bot-top)/9;
  const g=mk("g",{});
  
  
  for(let i=0;i<9;i++)mk("rect",{x:x0,y:bot-(i+1)*bh,width:w,height:bh+0.5,fill:levelColors[i+1]},g);
  mk("polygon",{points:`${x0},${top} ${x0+w/2},${T} ${x0+w},${top}`,fill:levelColors[10],stroke:"#222","stroke-width":1.2},g);
  mk("rect",{x:x0,y:top,width:w,height:bot-top,fill:"none",stroke:"#222","stroke-width":1.2},g);
  cbarLabels[row].forEach((s,i)=>{const y=bot-i*bh;mk("line",{x1:x0+w,x2:x0+w+5,y1:y,y2:y,stroke:"#222","stroke-width":1.2},g);
    const tx=mk("text",{x:x0+w+9,y:y+7,"font-size":20},g,s);
    });
  const lb=mk("text",{x:0,y:0,"font-size":20,"text-anchor":"middle",transform:`translate(${1869},${(top+bot)/2}) rotate(-90)`},g);
  
  lb.innerHTML=`<tspan font-style="italic">r</tspan><tspan font-style="italic" font-size="14" dy="5">${species[row]}</tspan><tspan dy="-5"> (g kg</tspan><tspan font-size="13" dy="-8">−1</tspan><tspan dy="8">)</tspan>`;
}
for(let r=0;r<6;r++){drawPanel(0,r);drawPanel(1,r);drawCbar(r);}
</script>
</body></html>
